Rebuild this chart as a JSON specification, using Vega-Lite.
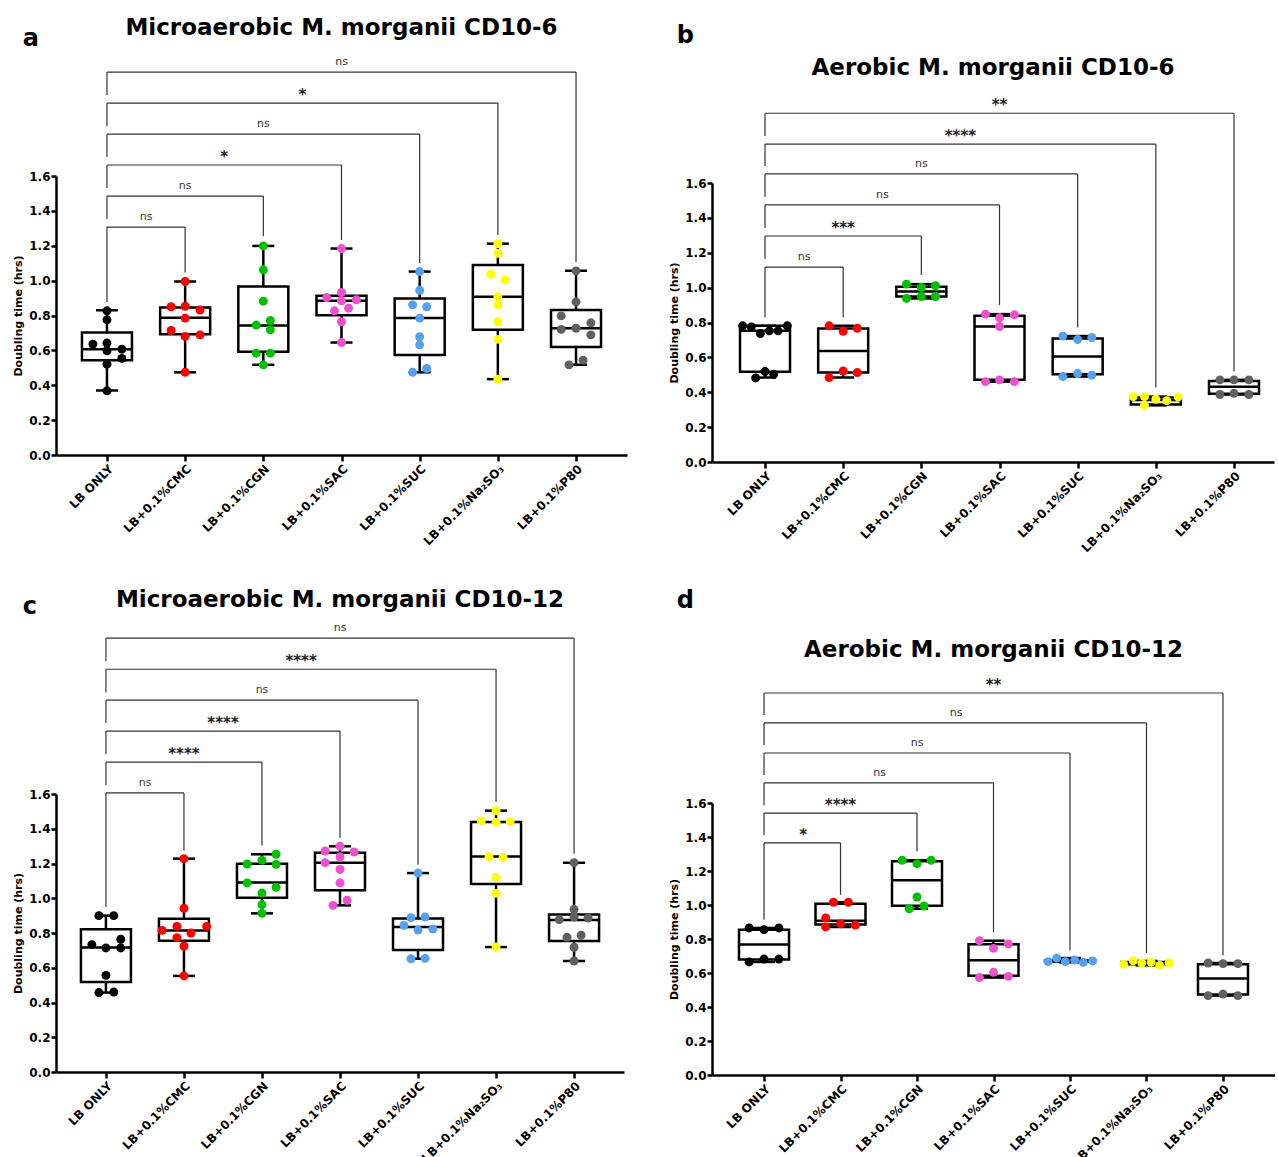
{
"$schema": "https://vega.github.io/schema/vega-lite/v6.json",
"padding": {"left": 12, "top": 17, "right": 0, "bottom": 0},
"config": {
  "font": "DejaVu Sans",
  "view": {"stroke": null},
  "axis": {"grid": false, "domainColor": "black", "domainWidth": 2.5, "tickColor": "black", "tickWidth": 2.5, "labelColor": "black", "labelFontWeight": "bold", "labelFontSize": 12, "titleColor": "black", "titleFontWeight": "bold", "titleFontSize": 11},
  "axisX": {"labelAngle": -45, "tickSize": 6, "labelPadding": 2},
  "axisY": {"tickSize": 5, "labelPadding": 1, "titlePadding": 5},
  "title": {"fontSize": 23, "fontWeight": "bold", "color": "black"}
},
"datasets": {
"pts": [
{"p":"a","g":"LB ONLY","v":0.827,"dx":0},{"p":"a","g":"LB ONLY","v":0.775,"dx":0},{"p":"a","g":"LB ONLY","v":0.636,"dx":-0.18},{"p":"a","g":"LB ONLY","v":0.642,"dx":0},{"p":"a","g":"LB ONLY","v":0.598,"dx":0},{"p":"a","g":"LB ONLY","v":0.607,"dx":0.19},{"p":"a","g":"LB ONLY","v":0.554,"dx":0.19},{"p":"a","g":"LB ONLY","v":0.521,"dx":0},{"p":"a","g":"LB ONLY","v":0.368,"dx":0},
{"p":"a","g":"LB+0.1%CMC","v":0.995,"dx":0},{"p":"a","g":"LB+0.1%CMC","v":0.85,"dx":-0.18},{"p":"a","g":"LB+0.1%CMC","v":0.853,"dx":0},{"p":"a","g":"LB+0.1%CMC","v":0.831,"dx":0.19},{"p":"a","g":"LB+0.1%CMC","v":0.785,"dx":0},{"p":"a","g":"LB+0.1%CMC","v":0.714,"dx":-0.18},{"p":"a","g":"LB+0.1%CMC","v":0.68,"dx":0},{"p":"a","g":"LB+0.1%CMC","v":0.689,"dx":0.19},{"p":"a","g":"LB+0.1%CMC","v":0.474,"dx":0},
{"p":"a","g":"LB+0.1%CGN","v":1.199,"dx":0},{"p":"a","g":"LB+0.1%CGN","v":1.062,"dx":0},{"p":"a","g":"LB+0.1%CGN","v":0.882,"dx":0},{"p":"a","g":"LB+0.1%CGN","v":0.745,"dx":-0.09},{"p":"a","g":"LB+0.1%CGN","v":0.771,"dx":0.09},{"p":"a","g":"LB+0.1%CGN","v":0.718,"dx":0.09},{"p":"a","g":"LB+0.1%CGN","v":0.584,"dx":-0.09},{"p":"a","g":"LB+0.1%CGN","v":0.584,"dx":0.09},{"p":"a","g":"LB+0.1%CGN","v":0.517,"dx":0},
{"p":"a","g":"LB+0.1%SAC","v":1.184,"dx":0},{"p":"a","g":"LB+0.1%SAC","v":0.932,"dx":0},{"p":"a","g":"LB+0.1%SAC","v":0.903,"dx":-0.19},{"p":"a","g":"LB+0.1%SAC","v":0.884,"dx":0},{"p":"a","g":"LB+0.1%SAC","v":0.89,"dx":0.19},{"p":"a","g":"LB+0.1%SAC","v":0.842,"dx":0.09},{"p":"a","g":"LB+0.1%SAC","v":0.827,"dx":-0.09},{"p":"a","g":"LB+0.1%SAC","v":0.764,"dx":0},{"p":"a","g":"LB+0.1%SAC","v":0.645,"dx":0},
{"p":"a","g":"LB+0.1%SUC","v":1.052,"dx":0},{"p":"a","g":"LB+0.1%SUC","v":0.945,"dx":0},{"p":"a","g":"LB+0.1%SUC","v":0.861,"dx":-0.09},{"p":"a","g":"LB+0.1%SUC","v":0.85,"dx":0.09},{"p":"a","g":"LB+0.1%SUC","v":0.785,"dx":0},{"p":"a","g":"LB+0.1%SUC","v":0.678,"dx":0},{"p":"a","g":"LB+0.1%SUC","v":0.632,"dx":0},{"p":"a","g":"LB+0.1%SUC","v":0.474,"dx":-0.09},{"p":"a","g":"LB+0.1%SUC","v":0.496,"dx":0.09},
{"p":"a","g":"LB+0.1%Na₂SO₃","v":1.212,"dx":0},{"p":"a","g":"LB+0.1%Na₂SO₃","v":1.157,"dx":0},{"p":"a","g":"LB+0.1%Na₂SO₃","v":1.037,"dx":-0.09},{"p":"a","g":"LB+0.1%Na₂SO₃","v":1.004,"dx":0.09},{"p":"a","g":"LB+0.1%Na₂SO₃","v":0.907,"dx":0},{"p":"a","g":"LB+0.1%Na₂SO₃","v":0.861,"dx":0},{"p":"a","g":"LB+0.1%Na₂SO₃","v":0.764,"dx":0},{"p":"a","g":"LB+0.1%Na₂SO₃","v":0.663,"dx":0},{"p":"a","g":"LB+0.1%Na₂SO₃","v":0.435,"dx":0},
{"p":"a","g":"LB+0.1%P80","v":1.056,"dx":0},{"p":"a","g":"LB+0.1%P80","v":0.878,"dx":0},{"p":"a","g":"LB+0.1%P80","v":0.798,"dx":-0.19},{"p":"a","g":"LB+0.1%P80","v":0.758,"dx":0.19},{"p":"a","g":"LB+0.1%P80","v":0.72,"dx":-0.19},{"p":"a","g":"LB+0.1%P80","v":0.727,"dx":0},{"p":"a","g":"LB+0.1%P80","v":0.689,"dx":0.19},{"p":"a","g":"LB+0.1%P80","v":0.517,"dx":-0.09},{"p":"a","g":"LB+0.1%P80","v":0.544,"dx":0.09},

{"p":"b","g":"LB ONLY","v":0.781,"dx":-0.285},{"p":"b","g":"LB ONLY","v":0.775,"dx":-0.175},{"p":"b","g":"LB ONLY","v":0.737,"dx":-0.06},{"p":"b","g":"LB ONLY","v":0.752,"dx":0.055},{"p":"b","g":"LB ONLY","v":0.752,"dx":0.167},{"p":"b","g":"LB ONLY","v":0.781,"dx":0.285},{"p":"b","g":"LB ONLY","v":0.482,"dx":-0.12},{"p":"b","g":"LB ONLY","v":0.519,"dx":0},{"p":"b","g":"LB ONLY","v":0.503,"dx":0.11},
{"p":"b","g":"LB+0.1%CMC","v":0.781,"dx":-0.18},{"p":"b","g":"LB+0.1%CMC","v":0.75,"dx":0},{"p":"b","g":"LB+0.1%CMC","v":0.767,"dx":0.18},{"p":"b","g":"LB+0.1%CMC","v":0.484,"dx":-0.18},{"p":"b","g":"LB+0.1%CMC","v":0.522,"dx":0},{"p":"b","g":"LB+0.1%CMC","v":0.513,"dx":0.18},
{"p":"b","g":"LB+0.1%CGN","v":1.02,"dx":-0.19},{"p":"b","g":"LB+0.1%CGN","v":1.001,"dx":0},{"p":"b","g":"LB+0.1%CGN","v":1.011,"dx":0.18},{"p":"b","g":"LB+0.1%CGN","v":0.938,"dx":-0.19},{"p":"b","g":"LB+0.1%CGN","v":0.949,"dx":0},{"p":"b","g":"LB+0.1%CGN","v":0.949,"dx":0.18},
{"p":"b","g":"LB+0.1%SAC","v":0.848,"dx":-0.18},{"p":"b","g":"LB+0.1%SAC","v":0.827,"dx":0},{"p":"b","g":"LB+0.1%SAC","v":0.844,"dx":0.19},{"p":"b","g":"LB+0.1%SAC","v":0.777,"dx":0},{"p":"b","g":"LB+0.1%SAC","v":0.461,"dx":-0.18},{"p":"b","g":"LB+0.1%SAC","v":0.471,"dx":0},{"p":"b","g":"LB+0.1%SAC","v":0.461,"dx":0.19},
{"p":"b","g":"LB+0.1%SUC","v":0.722,"dx":-0.19},{"p":"b","g":"LB+0.1%SUC","v":0.702,"dx":0},{"p":"b","g":"LB+0.1%SUC","v":0.714,"dx":0.18},{"p":"b","g":"LB+0.1%SUC","v":0.49,"dx":-0.19},{"p":"b","g":"LB+0.1%SUC","v":0.507,"dx":0},{"p":"b","g":"LB+0.1%SUC","v":0.498,"dx":0.18},
{"p":"b","g":"LB+0.1%Na₂SO₃","v":0.375,"dx":-0.29},{"p":"b","g":"LB+0.1%Na₂SO₃","v":0.375,"dx":-0.145},{"p":"b","g":"LB+0.1%Na₂SO₃","v":0.325,"dx":-0.145},{"p":"b","g":"LB+0.1%Na₂SO₃","v":0.36,"dx":0},{"p":"b","g":"LB+0.1%Na₂SO₃","v":0.352,"dx":0.14},{"p":"b","g":"LB+0.1%Na₂SO₃","v":0.373,"dx":0.285},
{"p":"b","g":"LB+0.1%P80","v":0.471,"dx":-0.18},{"p":"b","g":"LB+0.1%P80","v":0.471,"dx":0},{"p":"b","g":"LB+0.1%P80","v":0.471,"dx":0.19},{"p":"b","g":"LB+0.1%P80","v":0.387,"dx":-0.18},{"p":"b","g":"LB+0.1%P80","v":0.394,"dx":0},{"p":"b","g":"LB+0.1%P80","v":0.387,"dx":0.19},

{"p":"c","g":"LB ONLY","v":0.9,"dx":-0.09},{"p":"c","g":"LB ONLY","v":0.9,"dx":0.1},{"p":"c","g":"LB ONLY","v":0.733,"dx":-0.18},{"p":"c","g":"LB ONLY","v":0.714,"dx":0},{"p":"c","g":"LB ONLY","v":0.764,"dx":0.19},{"p":"c","g":"LB ONLY","v":0.714,"dx":0.19},{"p":"c","g":"LB ONLY","v":0.556,"dx":0},{"p":"c","g":"LB ONLY","v":0.457,"dx":-0.09},{"p":"c","g":"LB ONLY","v":0.46,"dx":0.1},
{"p":"c","g":"LB+0.1%CMC","v":1.228,"dx":0},{"p":"c","g":"LB+0.1%CMC","v":0.942,"dx":0},{"p":"c","g":"LB+0.1%CMC","v":0.815,"dx":-0.28},{"p":"c","g":"LB+0.1%CMC","v":0.838,"dx":-0.09},{"p":"c","g":"LB+0.1%CMC","v":0.838,"dx":0.29},{"p":"c","g":"LB+0.1%CMC","v":0.773,"dx":-0.09},{"p":"c","g":"LB+0.1%CMC","v":0.8,"dx":0.09},{"p":"c","g":"LB+0.1%CMC","v":0.725,"dx":0},{"p":"c","g":"LB+0.1%CMC","v":0.553,"dx":0},
{"p":"c","g":"LB+0.1%CGN","v":1.253,"dx":0.18},{"p":"c","g":"LB+0.1%CGN","v":1.197,"dx":-0.19},{"p":"c","g":"LB+0.1%CGN","v":1.218,"dx":0},{"p":"c","g":"LB+0.1%CGN","v":1.195,"dx":0.18},{"p":"c","g":"LB+0.1%CGN","v":1.088,"dx":-0.19},{"p":"c","g":"LB+0.1%CGN","v":1.063,"dx":0.18},{"p":"c","g":"LB+0.1%CGN","v":1.03,"dx":0},{"p":"c","g":"LB+0.1%CGN","v":0.963,"dx":0},{"p":"c","g":"LB+0.1%CGN","v":0.913,"dx":0},
{"p":"c","g":"LB+0.1%SAC","v":1.299,"dx":0},{"p":"c","g":"LB+0.1%SAC","v":1.272,"dx":-0.19},{"p":"c","g":"LB+0.1%SAC","v":1.266,"dx":0.18},{"p":"c","g":"LB+0.1%SAC","v":1.239,"dx":0},{"p":"c","g":"LB+0.1%SAC","v":1.205,"dx":-0.19},{"p":"c","g":"LB+0.1%SAC","v":1.166,"dx":0},{"p":"c","g":"LB+0.1%SAC","v":1.088,"dx":0},{"p":"c","g":"LB+0.1%SAC","v":0.988,"dx":0.09},{"p":"c","g":"LB+0.1%SAC","v":0.959,"dx":-0.09},
{"p":"c","g":"LB+0.1%SUC","v":1.145,"dx":0},{"p":"c","g":"LB+0.1%SUC","v":0.888,"dx":-0.09},{"p":"c","g":"LB+0.1%SUC","v":0.892,"dx":0.09},{"p":"c","g":"LB+0.1%SUC","v":0.844,"dx":-0.18},{"p":"c","g":"LB+0.1%SUC","v":0.817,"dx":0},{"p":"c","g":"LB+0.1%SUC","v":0.823,"dx":0.19},{"p":"c","g":"LB+0.1%SUC","v":0.652,"dx":-0.09},{"p":"c","g":"LB+0.1%SUC","v":0.654,"dx":0.09},
{"p":"c","g":"LB+0.1%Na₂SO₃","v":1.504,"dx":0},{"p":"c","g":"LB+0.1%Na₂SO₃","v":1.445,"dx":-0.19},{"p":"c","g":"LB+0.1%Na₂SO₃","v":1.437,"dx":0},{"p":"c","g":"LB+0.1%Na₂SO₃","v":1.441,"dx":0.18},{"p":"c","g":"LB+0.1%Na₂SO₃","v":1.239,"dx":-0.09},{"p":"c","g":"LB+0.1%Na₂SO₃","v":1.235,"dx":0.09},{"p":"c","g":"LB+0.1%Na₂SO₃","v":1.12,"dx":0},{"p":"c","g":"LB+0.1%Na₂SO₃","v":1.028,"dx":0},{"p":"c","g":"LB+0.1%Na₂SO₃","v":0.719,"dx":0},
{"p":"c","g":"LB+0.1%P80","v":1.205,"dx":0},{"p":"c","g":"LB+0.1%P80","v":0.936,"dx":0},{"p":"c","g":"LB+0.1%P80","v":0.877,"dx":-0.19},{"p":"c","g":"LB+0.1%P80","v":0.892,"dx":0},{"p":"c","g":"LB+0.1%P80","v":0.886,"dx":0.18},{"p":"c","g":"LB+0.1%P80","v":0.775,"dx":-0.09},{"p":"c","g":"LB+0.1%P80","v":0.787,"dx":0.09},{"p":"c","g":"LB+0.1%P80","v":0.718,"dx":0},{"p":"c","g":"LB+0.1%P80","v":0.639,"dx":0},

{"p":"d","g":"LB ONLY","v":0.865,"dx":-0.19},{"p":"d","g":"LB ONLY","v":0.855,"dx":0},{"p":"d","g":"LB ONLY","v":0.865,"dx":0.19},{"p":"d","g":"LB ONLY","v":0.665,"dx":-0.19},{"p":"d","g":"LB ONLY","v":0.682,"dx":0},{"p":"d","g":"LB ONLY","v":0.682,"dx":0.19},
{"p":"d","g":"LB+0.1%CMC","v":1.016,"dx":-0.09},{"p":"d","g":"LB+0.1%CMC","v":1.016,"dx":0.1},{"p":"d","g":"LB+0.1%CMC","v":0.924,"dx":-0.19},{"p":"d","g":"LB+0.1%CMC","v":0.89,"dx":0},{"p":"d","g":"LB+0.1%CMC","v":0.882,"dx":0.19},{"p":"d","g":"LB+0.1%CMC","v":0.871,"dx":-0.19},
{"p":"d","g":"LB+0.1%CGN","v":1.263,"dx":-0.19},{"p":"d","g":"LB+0.1%CGN","v":1.243,"dx":0},{"p":"d","g":"LB+0.1%CGN","v":1.263,"dx":0.18},{"p":"d","g":"LB+0.1%CGN","v":1.047,"dx":0},{"p":"d","g":"LB+0.1%CGN","v":0.994,"dx":0.09},{"p":"d","g":"LB+0.1%CGN","v":0.978,"dx":-0.1},
{"p":"d","g":"LB+0.1%SAC","v":0.79,"dx":-0.18},{"p":"d","g":"LB+0.1%SAC","v":0.771,"dx":0.19},{"p":"d","g":"LB+0.1%SAC","v":0.745,"dx":0},{"p":"d","g":"LB+0.1%SAC","v":0.573,"dx":-0.18},{"p":"d","g":"LB+0.1%SAC","v":0.604,"dx":0},{"p":"d","g":"LB+0.1%SAC","v":0.58,"dx":0.19},
{"p":"d","g":"LB+0.1%SUC","v":0.667,"dx":-0.28},{"p":"d","g":"LB+0.1%SUC","v":0.688,"dx":-0.17},{"p":"d","g":"LB+0.1%SUC","v":0.667,"dx":-0.06},{"p":"d","g":"LB+0.1%SUC","v":0.676,"dx":0.06},{"p":"d","g":"LB+0.1%SUC","v":0.663,"dx":0.17},{"p":"d","g":"LB+0.1%SUC","v":0.671,"dx":0.29},
{"p":"d","g":"LB+0.1%Na₂SO₃","v":0.651,"dx":-0.29},{"p":"d","g":"LB+0.1%Na₂SO₃","v":0.671,"dx":-0.17},{"p":"d","g":"LB+0.1%Na₂SO₃","v":0.659,"dx":-0.06},{"p":"d","g":"LB+0.1%Na₂SO₃","v":0.663,"dx":0.06},{"p":"d","g":"LB+0.1%Na₂SO₃","v":0.645,"dx":0.17},{"p":"d","g":"LB+0.1%Na₂SO₃","v":0.659,"dx":0.29},
{"p":"d","g":"LB+0.1%P80","v":0.659,"dx":-0.19},{"p":"d","g":"LB+0.1%P80","v":0.655,"dx":0},{"p":"d","g":"LB+0.1%P80","v":0.655,"dx":0.19},{"p":"d","g":"LB+0.1%P80","v":0.467,"dx":-0.19},{"p":"d","g":"LB+0.1%P80","v":0.476,"dx":0},{"p":"d","g":"LB+0.1%P80","v":0.467,"dx":0.19}
],
"box": [
{"p":"a","g":"LB ONLY","lo":0.37,"q1":0.544,"med":0.607,"q3":0.703,"hi":0.83},
{"p":"a","g":"LB+0.1%CMC","lo":0.474,"q1":0.693,"med":0.787,"q3":0.846,"hi":0.995},
{"p":"a","g":"LB+0.1%CGN","lo":0.517,"q1":0.592,"med":0.743,"q3":0.966,"hi":1.199},
{"p":"a","g":"LB+0.1%SAC","lo":0.645,"q1":0.802,"med":0.884,"q3":0.913,"hi":1.184},
{"p":"a","g":"LB+0.1%SUC","lo":0.474,"q1":0.573,"med":0.785,"q3":0.897,"hi":1.052},
{"p":"a","g":"LB+0.1%Na₂SO₃","lo":0.435,"q1":0.718,"med":0.907,"q3":1.09,"hi":1.212},
{"p":"a","g":"LB+0.1%P80","lo":0.517,"q1":0.62,"med":0.727,"q3":0.832,"hi":1.056},
{"p":"b","g":"LB ONLY","lo":0.484,"q1":0.517,"med":0.752,"q3":0.781,"hi":0.781},
{"p":"b","g":"LB+0.1%CMC","lo":0.484,"q1":0.513,"med":0.637,"q3":0.765,"hi":0.781},
{"p":"b","g":"LB+0.1%CGN","lo":0.938,"q1":0.949,"med":0.978,"q3":1.005,"hi":1.02},
{"p":"b","g":"LB+0.1%SAC","lo":0.461,"q1":0.471,"med":0.777,"q3":0.838,"hi":0.848},
{"p":"b","g":"LB+0.1%SUC","lo":0.49,"q1":0.503,"med":0.605,"q3":0.708,"hi":0.722},
{"p":"b","g":"LB+0.1%Na₂SO₃","lo":0.325,"q1":0.33,"med":0.355,"q3":0.37,"hi":0.375},
{"p":"b","g":"LB+0.1%P80","lo":0.387,"q1":0.392,"med":0.431,"q3":0.465,"hi":0.471},
{"p":"c","g":"LB ONLY","lo":0.457,"q1":0.518,"med":0.716,"q3":0.821,"hi":0.9},
{"p":"c","g":"LB+0.1%CMC","lo":0.553,"q1":0.756,"med":0.815,"q3":0.882,"hi":1.228},
{"p":"c","g":"LB+0.1%CGN","lo":0.913,"q1":1.003,"med":1.09,"q3":1.199,"hi":1.253},
{"p":"c","g":"LB+0.1%SAC","lo":0.959,"q1":1.046,"med":1.205,"q3":1.262,"hi":1.299},
{"p":"c","g":"LB+0.1%SUC","lo":0.652,"q1":0.702,"med":0.835,"q3":0.883,"hi":1.145},
{"p":"c","g":"LB+0.1%Na₂SO₃","lo":0.719,"q1":1.082,"med":1.241,"q3":1.439,"hi":1.504},
{"p":"c","g":"LB+0.1%P80","lo":0.639,"q1":0.754,"med":0.875,"q3":0.906,"hi":1.205},
{"p":"d","g":"LB ONLY","lo":0.665,"q1":0.68,"med":0.767,"q3":0.855,"hi":0.865},
{"p":"d","g":"LB+0.1%CMC","lo":0.871,"q1":0.886,"med":0.908,"q3":1.008,"hi":1.016},
{"p":"d","g":"LB+0.1%CGN","lo":0.978,"q1":0.996,"med":1.145,"q3":1.257,"hi":1.263},
{"p":"d","g":"LB+0.1%SAC","lo":0.573,"q1":0.584,"med":0.675,"q3":0.769,"hi":0.79},
{"p":"d","g":"LB+0.1%SUC","lo":0.663,"q1":0.666,"med":0.67,"q3":0.674,"hi":0.688},
{"p":"d","g":"LB+0.1%Na₂SO₃","lo":0.645,"q1":0.652,"med":0.659,"q3":0.664,"hi":0.671},
{"p":"d","g":"LB+0.1%P80","lo":0.467,"q1":0.473,"med":0.567,"q3":0.651,"hi":0.659}
],
"br": [
{"p":"a","g0":"LB ONLY","g":"LB+0.1%CMC","lab":"ns","lvl":1.307,"llo":0.877,"rlo":1.047,"mid":"LB ONLY","half":0.5},
{"p":"a","g0":"LB ONLY","g":"LB+0.1%CGN","lab":"ns","lvl":1.485,"llo":1.353,"rlo":1.254,"mid":"LB+0.1%CMC","half":0},
{"p":"a","g0":"LB ONLY","g":"LB+0.1%SAC","lab":"*","lvl":1.663,"llo":1.531,"rlo":1.233,"mid":"LB+0.1%CMC","half":0.5},
{"p":"a","g0":"LB ONLY","g":"LB+0.1%SUC","lab":"ns","lvl":1.84,"llo":1.709,"rlo":1.101,"mid":"LB+0.1%CGN","half":0},
{"p":"a","g0":"LB ONLY","g":"LB+0.1%Na₂SO₃","lab":"*","lvl":2.018,"llo":1.886,"rlo":1.261,"mid":"LB+0.1%CGN","half":0.5},
{"p":"a","g0":"LB ONLY","g":"LB+0.1%P80","lab":"ns","lvl":2.196,"llo":2.064,"rlo":1.105,"mid":"LB+0.1%SAC","half":0},
{"p":"b","g0":"LB ONLY","g":"LB+0.1%CMC","lab":"ns","lvl":1.118,"llo":0.829,"rlo":0.829,"mid":"LB ONLY","half":0.5},
{"p":"b","g0":"LB ONLY","g":"LB+0.1%CGN","lab":"***","lvl":1.296,"llo":1.164,"rlo":1.072,"mid":"LB+0.1%CMC","half":0},
{"p":"b","g0":"LB ONLY","g":"LB+0.1%SAC","lab":"ns","lvl":1.474,"llo":1.342,"rlo":0.9,"mid":"LB+0.1%CMC","half":0.5},
{"p":"b","g0":"LB ONLY","g":"LB+0.1%SUC","lab":"ns","lvl":1.652,"llo":1.52,"rlo":0.771,"mid":"LB+0.1%CGN","half":0},
{"p":"b","g0":"LB ONLY","g":"LB+0.1%Na₂SO₃","lab":"****","lvl":1.823,"llo":1.698,"rlo":0.427,"mid":"LB+0.1%CGN","half":0.5},
{"p":"b","g0":"LB ONLY","g":"LB+0.1%P80","lab":"**","lvl":2.0,"llo":1.869,"rlo":0.519,"mid":"LB+0.1%SAC","half":0},
{"p":"c","g0":"LB ONLY","g":"LB+0.1%CMC","lab":"ns","lvl":1.606,"llo":0.95,"rlo":1.275,"mid":"LB ONLY","half":0.5},
{"p":"c","g0":"LB ONLY","g":"LB+0.1%CGN","lab":"****","lvl":1.784,"llo":1.652,"rlo":1.304,"mid":"LB+0.1%CMC","half":0},
{"p":"c","g0":"LB ONLY","g":"LB+0.1%SAC","lab":"****","lvl":1.962,"llo":1.83,"rlo":1.347,"mid":"LB+0.1%CMC","half":0.5},
{"p":"c","g0":"LB ONLY","g":"LB+0.1%SUC","lab":"ns","lvl":2.14,"llo":2.008,"rlo":1.193,"mid":"LB+0.1%CGN","half":0},
{"p":"c","g0":"LB ONLY","g":"LB+0.1%Na₂SO₃","lab":"****","lvl":2.318,"llo":2.186,"rlo":1.554,"mid":"LB+0.1%CGN","half":0.5},
{"p":"c","g0":"LB ONLY","g":"LB+0.1%P80","lab":"ns","lvl":2.497,"llo":2.364,"rlo":1.256,"mid":"LB+0.1%SAC","half":0},
{"p":"d","g0":"LB ONLY","g":"LB+0.1%CMC","lab":"*","lvl":1.365,"llo":0.913,"rlo":1.06,"mid":"LB ONLY","half":0.5},
{"p":"d","g0":"LB ONLY","g":"LB+0.1%CGN","lab":"****","lvl":1.541,"llo":1.411,"rlo":1.315,"mid":"LB+0.1%CMC","half":0},
{"p":"d","g0":"LB ONLY","g":"LB+0.1%SAC","lab":"ns","lvl":1.718,"llo":1.587,"rlo":0.839,"mid":"LB+0.1%CMC","half":0.5},
{"p":"d","g0":"LB ONLY","g":"LB+0.1%SUC","lab":"ns","lvl":1.894,"llo":1.764,"rlo":0.733,"mid":"LB+0.1%CGN","half":0},
{"p":"d","g0":"LB ONLY","g":"LB+0.1%Na₂SO₃","lab":"ns","lvl":2.071,"llo":1.94,"rlo":0.718,"mid":"LB+0.1%CGN","half":0.5},
{"p":"d","g0":"LB ONLY","g":"LB+0.1%P80","lab":"**","lvl":2.247,"llo":2.117,"rlo":0.704,"mid":"LB+0.1%SAC","half":0}
]
},
"columns": 2,
"align": "none",
"spacing": {"row": 35, "column": 41},
"concat": [
{"title": {"text": "a", "anchor": "start", "fontSize": 24, "offset": -34, "dx": 10},
 "vconcat": [{
 "title": {"text": "Microaerobic M. morganii CD10-6", "offset": 16},
 "width": 571, "height": 279,
 "layer": [
  {"data": {"name": "box"}, "transform": [{"filter": "datum.p == 'a'"}], "mark": {"type": "rule", "color": "black", "strokeWidth": 2.5},
   "encoding": {"x": {"field": "g", "type": "nominal", "title": null, "scale": {"type": "point", "domain": ["LB ONLY","LB+0.1%CMC","LB+0.1%CGN","LB+0.1%SAC","LB+0.1%SUC","LB+0.1%Na₂SO₃","LB+0.1%P80"], "padding": 0.652}}, "y": {"field": "lo", "type": "quantitative", "scale": {"domain": [0, 1.6]}, "title": "Doubling time (hrs)"}, "y2": {"field": "hi"}}},
  {"data": {"name": "box"}, "transform": [{"filter": "datum.p == 'a'"}], "mark": {"type": "bar", "size": 50, "fill": "white", "stroke": "black", "strokeWidth": 2.5},
   "encoding": {"x": {"field": "g", "type": "nominal", "title": null}, "y": {"field": "q1", "type": "quantitative", "title": "Doubling time (hrs)"}, "y2": {"field": "q3"}}},
  {"data": {"name": "box"}, "transform": [{"filter": "datum.p == 'a'"}], "mark": {"type": "tick", "size": 50, "thickness": 2.5, "color": "black", "opacity": 1},
   "encoding": {"x": {"field": "g", "type": "nominal", "title": null}, "y": {"field": "med", "type": "quantitative", "title": "Doubling time (hrs)"}}},
  {"data": {"name": "box"}, "transform": [{"filter": "datum.p == 'a'"}], "mark": {"type": "tick", "size": 22, "thickness": 2.5, "color": "black", "opacity": 1},
   "encoding": {"x": {"field": "g", "type": "nominal", "title": null}, "y": {"field": "lo", "type": "quantitative", "title": "Doubling time (hrs)"}}},
  {"data": {"name": "box"}, "transform": [{"filter": "datum.p == 'a'"}], "mark": {"type": "tick", "size": 22, "thickness": 2.5, "color": "black", "opacity": 1},
   "encoding": {"x": {"field": "g", "type": "nominal", "title": null}, "y": {"field": "hi", "type": "quantitative", "title": "Doubling time (hrs)"}}},
  {"data": {"name": "pts"}, "transform": [{"filter": "datum.p == 'a'"}], "mark": {"type": "circle", "size": 80, "opacity": 1},
   "encoding": {"x": {"field": "g", "type": "nominal", "title": null}, "xOffset": {"field": "dx", "type": "quantitative", "scale": {"domain": [-1, 1], "range": [-78.2, 78.2]}}, "y": {"field": "v", "type": "quantitative", "title": "Doubling time (hrs)"},
    "color": {"field": "g", "type": "nominal", "legend": null, "scale": {"domain": ["LB ONLY","LB+0.1%CMC","LB+0.1%CGN","LB+0.1%SAC","LB+0.1%SUC","LB+0.1%Na₂SO₃","LB+0.1%P80"], "range": ["#000000","#ff0000","#00c000","#f050d0","#55a0f0","#ffff00","#606060"]}}}},
  {"data": {"name": "br"}, "transform": [{"filter": "datum.p == 'a'"}], "mark": {"type": "rule", "color": "#333333", "strokeWidth": 1.2},
   "encoding": {"x": {"field": "g0", "type": "nominal", "title": null}, "x2": {"field": "g"}, "y": {"field": "lvl", "type": "quantitative", "title": "Doubling time (hrs)"}}},
  {"data": {"name": "br"}, "transform": [{"filter": "datum.p == 'a'"}], "mark": {"type": "rule", "color": "#333333", "strokeWidth": 1.2},
   "encoding": {"x": {"field": "g0", "type": "nominal", "title": null}, "y": {"field": "llo", "type": "quantitative", "title": "Doubling time (hrs)"}, "y2": {"field": "lvl"}}},
  {"data": {"name": "br"}, "transform": [{"filter": "datum.p == 'a'"}], "mark": {"type": "rule", "color": "#333333", "strokeWidth": 1.2},
   "encoding": {"x": {"field": "g", "type": "nominal", "title": null}, "y": {"field": "rlo", "type": "quantitative", "title": "Doubling time (hrs)"}, "y2": {"field": "lvl"}}},
  {"data": {"name": "br"}, "transform": [{"filter": "datum.p == 'a' && datum.lab == 'ns'"}], "mark": {"type": "text", "baseline": "alphabetic", "dy": -7, "fontSize": 11, "color": "#333333"},
   "encoding": {"x": {"field": "mid", "type": "nominal", "title": null}, "xOffset": {"field": "half", "type": "quantitative", "scale": {"domain": [-1, 1], "range": [-78.2, 78.2]}}, "y": {"field": "lvl", "type": "quantitative", "title": "Doubling time (hrs)"}, "text": {"field": "lab"}}},
  {"data": {"name": "br"}, "transform": [{"filter": "datum.p == 'a' && datum.lab != 'ns'"}], "mark": {"type": "text", "baseline": "alphabetic", "dy": -3, "fontSize": 15, "fontWeight": "bold", "color": "#222222"},
   "encoding": {"x": {"field": "mid", "type": "nominal", "title": null}, "xOffset": {"field": "half", "type": "quantitative", "scale": {"domain": [-1, 1], "range": [-78.2, 78.2]}}, "y": {"field": "lvl", "type": "quantitative", "title": "Doubling time (hrs)"}, "text": {"field": "lab"}}}
 ]}]},
{"title": {"text": "b", "anchor": "start", "fontSize": 24, "offset": 9, "dx": 8},
 "vconcat": [{
 "title": {"text": "Aerobic M. morganii CD10-6", "offset": 18},
 "width": 562, "height": 286,
 "layer": [
  {"data": {"name": "box"}, "transform": [{"filter": "datum.p == 'b'"}], "mark": {"type": "rule", "color": "black", "strokeWidth": 2.5},
   "encoding": {"x": {"field": "g", "type": "nominal", "title": null, "scale": {"type": "point", "domain": ["LB ONLY","LB+0.1%CMC","LB+0.1%CGN","LB+0.1%SAC","LB+0.1%SUC","LB+0.1%Na₂SO₃","LB+0.1%P80"], "padding": 0.595, "align": 0.57}}, "y": {"field": "lo", "type": "quantitative", "scale": {"domain": [0, 1.6], "range": [286, 7]}, "title": "Doubling time (hrs)"}, "y2": {"field": "hi"}}},
  {"data": {"name": "box"}, "transform": [{"filter": "datum.p == 'b'"}], "mark": {"type": "bar", "size": 50, "fill": "white", "stroke": "black", "strokeWidth": 2.5},
   "encoding": {"x": {"field": "g", "type": "nominal", "title": null}, "y": {"field": "q1", "type": "quantitative", "title": "Doubling time (hrs)"}, "y2": {"field": "q3"}}},
  {"data": {"name": "box"}, "transform": [{"filter": "datum.p == 'b'"}], "mark": {"type": "tick", "size": 50, "thickness": 2.5, "color": "black", "opacity": 1},
   "encoding": {"x": {"field": "g", "type": "nominal", "title": null}, "y": {"field": "med", "type": "quantitative", "title": "Doubling time (hrs)"}}},
  {"data": {"name": "box"}, "transform": [{"filter": "datum.p == 'b'"}], "mark": {"type": "tick", "size": 22, "thickness": 2.5, "color": "black", "opacity": 1},
   "encoding": {"x": {"field": "g", "type": "nominal", "title": null}, "y": {"field": "lo", "type": "quantitative", "title": "Doubling time (hrs)"}}},
  {"data": {"name": "box"}, "transform": [{"filter": "datum.p == 'b'"}], "mark": {"type": "tick", "size": 22, "thickness": 2.5, "color": "black", "opacity": 1},
   "encoding": {"x": {"field": "g", "type": "nominal", "title": null}, "y": {"field": "hi", "type": "quantitative", "title": "Doubling time (hrs)"}}},
  {"data": {"name": "pts"}, "transform": [{"filter": "datum.p == 'b'"}], "mark": {"type": "circle", "size": 80, "opacity": 1},
   "encoding": {"x": {"field": "g", "type": "nominal", "title": null}, "xOffset": {"field": "dx", "type": "quantitative", "scale": {"domain": [-1, 1], "range": [-78.2, 78.2]}}, "y": {"field": "v", "type": "quantitative", "title": "Doubling time (hrs)"},
    "color": {"field": "g", "type": "nominal", "legend": null, "scale": {"domain": ["LB ONLY","LB+0.1%CMC","LB+0.1%CGN","LB+0.1%SAC","LB+0.1%SUC","LB+0.1%Na₂SO₃","LB+0.1%P80"], "range": ["#000000","#ff0000","#00c000","#f050d0","#55a0f0","#ffff00","#606060"]}}}},
  {"data": {"name": "br"}, "transform": [{"filter": "datum.p == 'b'"}], "mark": {"type": "rule", "color": "#333333", "strokeWidth": 1.2},
   "encoding": {"x": {"field": "g0", "type": "nominal", "title": null}, "x2": {"field": "g"}, "y": {"field": "lvl", "type": "quantitative", "title": "Doubling time (hrs)"}}},
  {"data": {"name": "br"}, "transform": [{"filter": "datum.p == 'b'"}], "mark": {"type": "rule", "color": "#333333", "strokeWidth": 1.2},
   "encoding": {"x": {"field": "g0", "type": "nominal", "title": null}, "y": {"field": "llo", "type": "quantitative", "title": "Doubling time (hrs)"}, "y2": {"field": "lvl"}}},
  {"data": {"name": "br"}, "transform": [{"filter": "datum.p == 'b'"}], "mark": {"type": "rule", "color": "#333333", "strokeWidth": 1.2},
   "encoding": {"x": {"field": "g", "type": "nominal", "title": null}, "y": {"field": "rlo", "type": "quantitative", "title": "Doubling time (hrs)"}, "y2": {"field": "lvl"}}},
  {"data": {"name": "br"}, "transform": [{"filter": "datum.p == 'b' && datum.lab == 'ns'"}], "mark": {"type": "text", "baseline": "alphabetic", "dy": -7, "fontSize": 11, "color": "#333333"},
   "encoding": {"x": {"field": "mid", "type": "nominal", "title": null}, "xOffset": {"field": "half", "type": "quantitative", "scale": {"domain": [-1, 1], "range": [-78.2, 78.2]}}, "y": {"field": "lvl", "type": "quantitative", "title": "Doubling time (hrs)"}, "text": {"field": "lab"}}},
  {"data": {"name": "br"}, "transform": [{"filter": "datum.p == 'b' && datum.lab != 'ns'"}], "mark": {"type": "text", "baseline": "alphabetic", "dy": -3, "fontSize": 15, "fontWeight": "bold", "color": "#222222"},
   "encoding": {"x": {"field": "mid", "type": "nominal", "title": null}, "xOffset": {"field": "half", "type": "quantitative", "scale": {"domain": [-1, 1], "range": [-78.2, 78.2]}}, "y": {"field": "lvl", "type": "quantitative", "title": "Doubling time (hrs)"}, "text": {"field": "lab"}}}
 ]}]},
{"title": {"text": "c", "anchor": "start", "fontSize": 24, "offset": -30, "dx": 10},
 "vconcat": [{
 "title": {"text": "Microaerobic M. morganii CD10-12", "offset": 10},
 "width": 568, "height": 278,
 "layer": [
  {"data": {"name": "box"}, "transform": [{"filter": "datum.p == 'c'"}], "mark": {"type": "rule", "color": "black", "strokeWidth": 2.5},
   "encoding": {"x": {"field": "g", "type": "nominal", "title": null, "scale": {"type": "point", "domain": ["LB ONLY","LB+0.1%CMC","LB+0.1%CGN","LB+0.1%SAC","LB+0.1%SUC","LB+0.1%Na₂SO₃","LB+0.1%P80"], "padding": 0.64}}, "y": {"field": "lo", "type": "quantitative", "scale": {"domain": [0, 1.6]}, "title": "Doubling time (hrs)"}, "y2": {"field": "hi"}}},
  {"data": {"name": "box"}, "transform": [{"filter": "datum.p == 'c'"}], "mark": {"type": "bar", "size": 50, "fill": "white", "stroke": "black", "strokeWidth": 2.5},
   "encoding": {"x": {"field": "g", "type": "nominal", "title": null}, "y": {"field": "q1", "type": "quantitative", "title": "Doubling time (hrs)"}, "y2": {"field": "q3"}}},
  {"data": {"name": "box"}, "transform": [{"filter": "datum.p == 'c'"}], "mark": {"type": "tick", "size": 50, "thickness": 2.5, "color": "black", "opacity": 1},
   "encoding": {"x": {"field": "g", "type": "nominal", "title": null}, "y": {"field": "med", "type": "quantitative", "title": "Doubling time (hrs)"}}},
  {"data": {"name": "box"}, "transform": [{"filter": "datum.p == 'c'"}], "mark": {"type": "tick", "size": 22, "thickness": 2.5, "color": "black", "opacity": 1},
   "encoding": {"x": {"field": "g", "type": "nominal", "title": null}, "y": {"field": "lo", "type": "quantitative", "title": "Doubling time (hrs)"}}},
  {"data": {"name": "box"}, "transform": [{"filter": "datum.p == 'c'"}], "mark": {"type": "tick", "size": 22, "thickness": 2.5, "color": "black", "opacity": 1},
   "encoding": {"x": {"field": "g", "type": "nominal", "title": null}, "y": {"field": "hi", "type": "quantitative", "title": "Doubling time (hrs)"}}},
  {"data": {"name": "pts"}, "transform": [{"filter": "datum.p == 'c'"}], "mark": {"type": "circle", "size": 80, "opacity": 1},
   "encoding": {"x": {"field": "g", "type": "nominal", "title": null}, "xOffset": {"field": "dx", "type": "quantitative", "scale": {"domain": [-1, 1], "range": [-78, 78]}}, "y": {"field": "v", "type": "quantitative", "title": "Doubling time (hrs)"},
    "color": {"field": "g", "type": "nominal", "legend": null, "scale": {"domain": ["LB ONLY","LB+0.1%CMC","LB+0.1%CGN","LB+0.1%SAC","LB+0.1%SUC","LB+0.1%Na₂SO₃","LB+0.1%P80"], "range": ["#000000","#ff0000","#00c000","#f050d0","#55a0f0","#ffff00","#606060"]}}}},
  {"data": {"name": "br"}, "transform": [{"filter": "datum.p == 'c'"}], "mark": {"type": "rule", "color": "#333333", "strokeWidth": 1.2},
   "encoding": {"x": {"field": "g0", "type": "nominal", "title": null}, "x2": {"field": "g"}, "y": {"field": "lvl", "type": "quantitative", "title": "Doubling time (hrs)"}}},
  {"data": {"name": "br"}, "transform": [{"filter": "datum.p == 'c'"}], "mark": {"type": "rule", "color": "#333333", "strokeWidth": 1.2},
   "encoding": {"x": {"field": "g0", "type": "nominal", "title": null}, "y": {"field": "llo", "type": "quantitative", "title": "Doubling time (hrs)"}, "y2": {"field": "lvl"}}},
  {"data": {"name": "br"}, "transform": [{"filter": "datum.p == 'c'"}], "mark": {"type": "rule", "color": "#333333", "strokeWidth": 1.2},
   "encoding": {"x": {"field": "g", "type": "nominal", "title": null}, "y": {"field": "rlo", "type": "quantitative", "title": "Doubling time (hrs)"}, "y2": {"field": "lvl"}}},
  {"data": {"name": "br"}, "transform": [{"filter": "datum.p == 'c' && datum.lab == 'ns'"}], "mark": {"type": "text", "baseline": "alphabetic", "dy": -7, "fontSize": 11, "color": "#333333"},
   "encoding": {"x": {"field": "mid", "type": "nominal", "title": null}, "xOffset": {"field": "half", "type": "quantitative", "scale": {"domain": [-1, 1], "range": [-78, 78]}}, "y": {"field": "lvl", "type": "quantitative", "title": "Doubling time (hrs)"}, "text": {"field": "lab"}}},
  {"data": {"name": "br"}, "transform": [{"filter": "datum.p == 'c' && datum.lab != 'ns'"}], "mark": {"type": "text", "baseline": "alphabetic", "dy": -3, "fontSize": 15, "fontWeight": "bold", "color": "#222222"},
   "encoding": {"x": {"field": "mid", "type": "nominal", "title": null}, "xOffset": {"field": "half", "type": "quantitative", "scale": {"domain": [-1, 1], "range": [-78, 78]}}, "y": {"field": "lvl", "type": "quantitative", "title": "Doubling time (hrs)"}, "text": {"field": "lab"}}}
 ]}]},
{"title": {"text": "d", "anchor": "start", "fontSize": 24, "offset": 26, "dx": 8},
 "vconcat": [{
 "title": {"text": "Aerobic M. morganii CD10-12", "offset": 16},
 "width": 563, "height": 280,
 "layer": [
  {"data": {"name": "box"}, "transform": [{"filter": "datum.p == 'd'"}], "mark": {"type": "rule", "color": "black", "strokeWidth": 2.5},
   "encoding": {"x": {"field": "g", "type": "nominal", "title": null, "scale": {"type": "point", "domain": ["LB ONLY","LB+0.1%CMC","LB+0.1%CGN","LB+0.1%SAC","LB+0.1%SUC","LB+0.1%Na₂SO₃","LB+0.1%P80"], "padding": 0.68}}, "y": {"field": "lo", "type": "quantitative", "scale": {"domain": [0, 1.6], "range": [280, 8]}, "title": "Doubling time (hrs)"}, "y2": {"field": "hi"}}},
  {"data": {"name": "box"}, "transform": [{"filter": "datum.p == 'd'"}], "mark": {"type": "bar", "size": 50, "fill": "white", "stroke": "black", "strokeWidth": 2.5},
   "encoding": {"x": {"field": "g", "type": "nominal", "title": null}, "y": {"field": "q1", "type": "quantitative", "title": "Doubling time (hrs)"}, "y2": {"field": "q3"}}},
  {"data": {"name": "box"}, "transform": [{"filter": "datum.p == 'd'"}], "mark": {"type": "tick", "size": 50, "thickness": 2.5, "color": "black", "opacity": 1},
   "encoding": {"x": {"field": "g", "type": "nominal", "title": null}, "y": {"field": "med", "type": "quantitative", "title": "Doubling time (hrs)"}}},
  {"data": {"name": "box"}, "transform": [{"filter": "datum.p == 'd'"}], "mark": {"type": "tick", "size": 22, "thickness": 2.5, "color": "black", "opacity": 1},
   "encoding": {"x": {"field": "g", "type": "nominal", "title": null}, "y": {"field": "lo", "type": "quantitative", "title": "Doubling time (hrs)"}}},
  {"data": {"name": "box"}, "transform": [{"filter": "datum.p == 'd'"}], "mark": {"type": "tick", "size": 22, "thickness": 2.5, "color": "black", "opacity": 1},
   "encoding": {"x": {"field": "g", "type": "nominal", "title": null}, "y": {"field": "hi", "type": "quantitative", "title": "Doubling time (hrs)"}}},
  {"data": {"name": "pts"}, "transform": [{"filter": "datum.p == 'd'"}], "mark": {"type": "circle", "size": 80, "opacity": 1},
   "encoding": {"x": {"field": "g", "type": "nominal", "title": null}, "xOffset": {"field": "dx", "type": "quantitative", "scale": {"domain": [-1, 1], "range": [-76.5, 76.5]}}, "y": {"field": "v", "type": "quantitative", "title": "Doubling time (hrs)"},
    "color": {"field": "g", "type": "nominal", "legend": null, "scale": {"domain": ["LB ONLY","LB+0.1%CMC","LB+0.1%CGN","LB+0.1%SAC","LB+0.1%SUC","LB+0.1%Na₂SO₃","LB+0.1%P80"], "range": ["#000000","#ff0000","#00c000","#f050d0","#55a0f0","#ffff00","#606060"]}}}},
  {"data": {"name": "br"}, "transform": [{"filter": "datum.p == 'd'"}], "mark": {"type": "rule", "color": "#333333", "strokeWidth": 1.2},
   "encoding": {"x": {"field": "g0", "type": "nominal", "title": null}, "x2": {"field": "g"}, "y": {"field": "lvl", "type": "quantitative", "title": "Doubling time (hrs)"}}},
  {"data": {"name": "br"}, "transform": [{"filter": "datum.p == 'd'"}], "mark": {"type": "rule", "color": "#333333", "strokeWidth": 1.2},
   "encoding": {"x": {"field": "g0", "type": "nominal", "title": null}, "y": {"field": "llo", "type": "quantitative", "title": "Doubling time (hrs)"}, "y2": {"field": "lvl"}}},
  {"data": {"name": "br"}, "transform": [{"filter": "datum.p == 'd'"}], "mark": {"type": "rule", "color": "#333333", "strokeWidth": 1.2},
   "encoding": {"x": {"field": "g", "type": "nominal", "title": null}, "y": {"field": "rlo", "type": "quantitative", "title": "Doubling time (hrs)"}, "y2": {"field": "lvl"}}},
  {"data": {"name": "br"}, "transform": [{"filter": "datum.p == 'd' && datum.lab == 'ns'"}], "mark": {"type": "text", "baseline": "alphabetic", "dy": -7, "fontSize": 11, "color": "#333333"},
   "encoding": {"x": {"field": "mid", "type": "nominal", "title": null}, "xOffset": {"field": "half", "type": "quantitative", "scale": {"domain": [-1, 1], "range": [-76.5, 76.5]}}, "y": {"field": "lvl", "type": "quantitative", "title": "Doubling time (hrs)"}, "text": {"field": "lab"}}},
  {"data": {"name": "br"}, "transform": [{"filter": "datum.p == 'd' && datum.lab != 'ns'"}], "mark": {"type": "text", "baseline": "alphabetic", "dy": -3, "fontSize": 15, "fontWeight": "bold", "color": "#222222"},
   "encoding": {"x": {"field": "mid", "type": "nominal", "title": null}, "xOffset": {"field": "half", "type": "quantitative", "scale": {"domain": [-1, 1], "range": [-76.5, 76.5]}}, "y": {"field": "lvl", "type": "quantitative", "title": "Doubling time (hrs)"}, "text": {"field": "lab"}}}
 ]}]}
]
}
